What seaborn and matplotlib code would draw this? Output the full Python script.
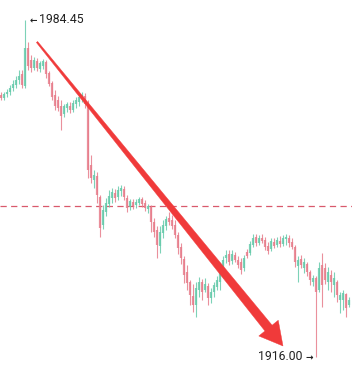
import numpy as np
import pandas as pd
import matplotlib
matplotlib.use("Agg")
import matplotlib.pyplot as plt
from matplotlib.patches import Polygon
import seaborn as sns

# ---- data (price candles) ----
opens = [1969.2, 1968.6, 1969.4, 1969.8, 1970.6, 1971.2, 1972.3, 1973.5, 1971.0, 1978.8,
         1976.3, 1974.7, 1976.1, 1974.5, 1975.1, 1975.9, 1973.7, 1971.6, 1969.2, 1968.2,
         1967.0, 1965.3, 1966.6, 1967.0, 1966.2, 1967.4, 1967.8, 1968.6, 1969.0, 1967.4,
         1955.0, 1951.9, 1952.8, 1948.5, 1942.8, 1945.4, 1947.1, 1948.3, 1949.3, 1948.5,
         1949.7, 1950.1, 1948.3, 1946.5, 1947.5, 1946.9, 1947.3, 1948.1, 1947.3, 1946.1,
         1946.5, 1943.4, 1941.8, 1938.5, 1941.2, 1942.6, 1944.2, 1943.8, 1942.8, 1940.8,
         1938.3, 1935.9, 1933.3, 1931.2, 1928.4, 1926.6, 1929.6, 1931.2, 1929.6, 1930.4,
         1928.0, 1929.2, 1930.2, 1931.2, 1933.3, 1936.1, 1936.9, 1935.5, 1936.7, 1935.7,
         1935.3, 1934.1, 1937.3, 1937.1, 1938.7, 1940.4, 1939.1, 1940.2, 1939.8, 1938.5,
         1937.9, 1939.4, 1938.7, 1939.6, 1939.0, 1940.0, 1940.2, 1939.4, 1938.3, 1934.5,
         1935.9, 1934.1, 1934.9, 1933.3, 1931.2, 1932.0, 1929.6, 1934.7, 1934.1, 1931.2,
         1932.6, 1930.6, 1931.2, 1927.6, 1927.6, 1928.8, 1926.6]
closes = [1968.6, 1969.4, 1969.8, 1970.6, 1971.4, 1972.3, 1973.1, 1971.2, 1978.8, 1975.1,
          1974.7, 1976.3, 1974.7, 1975.7, 1976.1, 1973.5, 1971.4, 1968.8, 1967.0, 1966.6,
          1964.9, 1967.0, 1967.4, 1966.2, 1967.6, 1968.2, 1968.8, 1969.2, 1967.4, 1954.0,
          1952.3, 1953.0, 1948.9, 1942.2, 1945.9, 1947.3, 1948.7, 1949.5, 1948.3, 1949.9,
          1950.3, 1948.5, 1946.3, 1947.7, 1946.7, 1947.5, 1948.1, 1947.1, 1946.3, 1946.7,
          1943.4, 1941.4, 1938.7, 1941.4, 1942.8, 1944.0, 1943.4, 1942.6, 1940.8, 1938.1,
          1936.1, 1932.6, 1931.0, 1928.6, 1926.6, 1930.0, 1931.2, 1929.2, 1930.8, 1928.0,
          1929.2, 1930.6, 1931.6, 1933.7, 1935.7, 1936.7, 1935.3, 1936.9, 1935.7, 1934.7,
          1933.7, 1936.1, 1936.5, 1939.0, 1940.2, 1939.1, 1940.2, 1939.6, 1938.3, 1937.5,
          1939.6, 1938.5, 1939.8, 1939.0, 1940.2, 1940.4, 1939.1, 1938.3, 1935.3, 1935.7,
          1934.7, 1935.3, 1933.3, 1931.6, 1932.0, 1929.2, 1934.1, 1930.6, 1931.6, 1933.3,
          1931.2, 1932.0, 1928.6, 1928.6, 1929.0, 1925.9, 1927.6]
highs = [1969.8, 1969.8, 1970.4, 1971.2, 1972.3, 1973.1, 1974.3, 1974.3, 1984.45, 1980.0,
         1977.3, 1976.9, 1976.7, 1976.1, 1976.5, 1976.3, 1974.1, 1972.0, 1970.2, 1969.0,
         1968.2, 1967.4, 1967.8, 1967.8, 1968.2, 1968.8, 1969.4, 1969.8, 1969.6, 1968.2,
         1957.0, 1954.0, 1953.6, 1948.9, 1946.9, 1948.3, 1949.9, 1950.3, 1950.1, 1950.7,
         1950.9, 1950.7, 1948.9, 1948.1, 1948.1, 1948.1, 1948.5, 1948.5, 1947.9, 1947.1,
         1946.9, 1944.2, 1942.6, 1942.6, 1943.8, 1944.6, 1945.4, 1944.8, 1943.8, 1941.4,
         1939.1, 1936.5, 1934.7, 1931.6, 1930.8, 1931.2, 1932.2, 1931.8, 1932.0, 1931.0,
         1930.0, 1931.2, 1932.4, 1934.7, 1936.5, 1937.7, 1937.7, 1937.7, 1937.3, 1936.5,
         1936.1, 1936.7, 1937.9, 1939.6, 1941.0, 1941.0, 1940.8, 1941.0, 1940.4, 1939.4,
         1940.2, 1940.2, 1940.4, 1940.6, 1940.8, 1941.0, 1940.8, 1940.2, 1938.7, 1936.5,
         1936.7, 1936.1, 1935.3, 1933.7, 1932.6, 1932.4, 1935.3, 1937.1, 1935.1, 1934.3,
         1933.7, 1933.3, 1931.6, 1929.2, 1929.6, 1929.0, 1928.2]
lows = [1968.2, 1968.2, 1968.8, 1969.2, 1970.0, 1970.6, 1971.4, 1970.6, 1970.6, 1974.3,
        1973.9, 1974.3, 1974.1, 1973.9, 1974.5, 1972.7, 1971.0, 1968.2, 1966.2, 1966.0,
        1962.1, 1964.7, 1965.8, 1965.6, 1965.8, 1966.6, 1967.0, 1967.8, 1966.6, 1952.3,
        1951.3, 1950.3, 1947.3, 1940.4, 1942.0, 1944.6, 1946.5, 1947.3, 1947.5, 1947.9,
        1948.7, 1947.9, 1945.4, 1945.9, 1946.1, 1946.3, 1946.9, 1946.5, 1945.7, 1945.2,
        1941.4, 1940.4, 1936.1, 1937.1, 1940.2, 1941.8, 1942.8, 1942.0, 1940.2, 1936.9,
        1934.9, 1931.0, 1929.6, 1926.5, 1925.1, 1924.1, 1928.2, 1927.6, 1929.2, 1926.6,
        1927.0, 1928.2, 1929.6, 1929.6, 1932.0, 1935.1, 1934.7, 1934.9, 1935.3, 1934.1,
        1932.9, 1933.5, 1936.1, 1936.7, 1938.3, 1938.5, 1938.7, 1939.1, 1937.7, 1936.9,
        1937.5, 1938.1, 1938.3, 1938.3, 1938.5, 1938.7, 1938.3, 1937.9, 1934.3, 1931.2,
        1934.1, 1933.1, 1932.4, 1930.6, 1930.4, 1916.0, 1929.2, 1926.2, 1930.8, 1929.6,
        1929.2, 1928.2, 1927.2, 1924.9, 1925.5, 1924.1, 1926.2]

high_label = "1984.45"
low_label = "1916.00"
reference_level = 1946.7

# ---- figure ----
W, H, DPI = 352, 379, 100
sns.set_theme(style="white")
plt.rcParams['font.family'] = ['Roboto', 'DejaVu Sans']

df = pd.DataFrame({"open": opens, "close": closes, "high": highs, "low": lows})
df["idx"] = np.arange(len(df))
df["dir"] = np.where(df["close"] >= df["open"], "up", "down")

fig = plt.figure(figsize=(W / DPI, H / DPI), dpi=DPI)
ax = fig.add_axes([0, 0, 1, 1])
ax.set_xlim(-1 / 3, 117)
ax.set_ylim(1911.53, 1988.51)
ax.axis("off")

colors = {"up": "#66caab", "down": "#e77d8b"}
for d, sub in df.groupby("dir"):
    ax.vlines(sub["idx"], sub["low"], sub["high"], color=colors[d], lw=0.8, alpha=0.85, zorder=2)
    ax.vlines(sub["idx"], np.minimum(sub["open"], sub["close"]),
              np.maximum(sub["open"], sub["close"]), color=colors[d], lw=1.6, alpha=0.85, zorder=2)

# dashed reference line
ax.axhline(reference_level, color="#d9596c", lw=0.9, ls=(0, (5, 3.5)), zorder=1)

# labels
txt = "#222222"
ax.text(9.4, 1984.2, "←", ha="left", va="center", fontsize=6.5, color=txt,
        family=['DejaVu Sans'], fontweight="bold")
ax.text(12.7, 1984.45, high_label, ha="left", va="center", fontsize=8.8, color=txt,
        family=['Roboto', 'DejaVu Sans'])
ax.text(100.4, 1916.0, low_label, ha="right", va="center", fontsize=8.8, color=txt,
        family=['Roboto', 'DejaVu Sans'])
ax.text(101.4, 1915.75, "→", ha="left", va="center", fontsize=6.5, color=txt,
        family=['DejaVu Sans'], fontweight="bold")

# big tapered arrow (in pixel space, origin top-left)
S = np.array([37.0, 42.0])
T = np.array([283.0, 346.0])
u = (T - S) / np.linalg.norm(T - S)
n = np.array([u[1], -u[0]])
B = T - 23 * u
pts = [S + 0.8 * n, B + 4.6 * n, B + 12.5 * n, T, B - 12.5 * n, B - 4.6 * n, S - 0.8 * n]
pts_fig = [(p[0] / W, 1 - p[1] / H) for p in pts]
arrow = Polygon(pts_fig, closed=True, transform=fig.transFigure, facecolor="#f03a3a",
                edgecolor="#f03a3a", lw=0.3, zorder=5)
fig.patches.append(arrow)

fig.savefig("out.png", dpi=DPI)
